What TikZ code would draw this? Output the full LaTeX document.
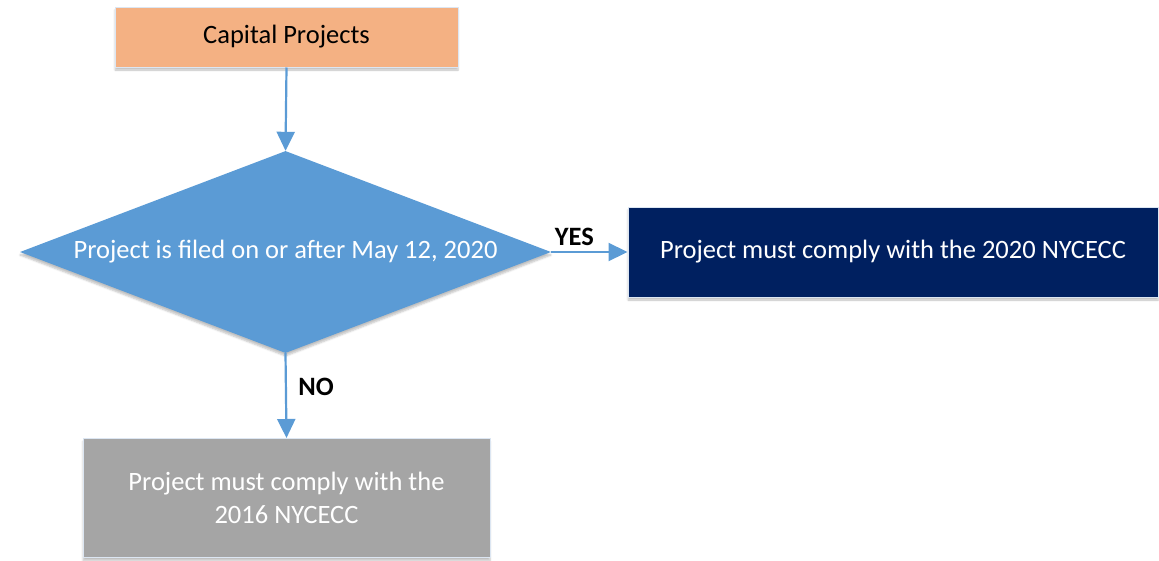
\documentclass[tikz,border=0pt]{standalone}
\usepackage{fontspec}
\setmainfont{Carlito}
\usetikzlibrary{
    shapes.geometric,
    arrows.meta,
    positioning,
    shadows.blur
}
\definecolor{start}{HTML}{F4B183}
\definecolor{decide}{HTML}{5B9BD5}
\definecolor{yesbox}{HTML}{002060}
\definecolor{nobox}{HTML}{A5A5A5}
\definecolor{edge}{HTML}{DCE6F2}
\tikzset{
    % Base box style
    flowbox/.style={
        rectangle,
        align=center,
        font=\fontsize{26.5}{33}\selectfont,
        draw=edge,
        fill=#1,
        line width=1pt,
        inner sep=0pt,
        blur shadow={shadow blur steps=5, shadow xshift=0pt, shadow yshift=-3pt, shadow opacity=25}
    },
    % Decision style
    decision/.style={
        diamond,
        aspect=2.63,
        align=center,
        font=\fontsize{26.5}{33}\selectfont,
        text=white,
        fill=decide,
        inner sep=0pt,
        blur shadow={shadow blur steps=5, shadow xshift=0pt, shadow yshift=-3pt, shadow opacity=25}
    },
    % Arrow style
    flow/.style={
        -{Triangle[length=19pt, width=18pt]},
        line width=2.2pt,
        color=decide
    },
    % Label style
    branch label/.style={
        font=\fontsize{26.5}{33}\selectfont\bfseries,
        text=black
    }
}
\begin{document}
\begin{tikzpicture}[x=1pt, y=-1pt]
        \useasboundingbox (0,0) rectangle (1159,560);
        % Boxes
        \node[flowbox=start, minimum width=343pt, minimum height=60pt] (capital) at (286.5,37) {Capital Projects};
        \node[decision, minimum width=531pt, minimum height=202pt] (filed) at (285.5,252) {Project is filed on or after May 12, 2020};
        \node[flowbox=yesbox, text=white, minimum width=530pt, minimum height=90pt] (new) at (893,252) {Project must comply with the 2020 NYCECC};
        \node[flowbox=nobox, text=white, minimum width=407pt, minimum height=119pt] (old) at (286.5,498) {Project must comply with the\\2016 NYCECC};
        % Arrows
        \draw[flow] (capital.south) -- (filed.north);
        \draw[flow] (filed.east) -- node[branch label, above=2pt, xshift=-15pt] {YES} (new.west);
        \draw[flow] (filed.south) -- node[branch label, right=8pt, yshift=9pt] {NO} (old.north);
    \end{tikzpicture}
\end{document}
